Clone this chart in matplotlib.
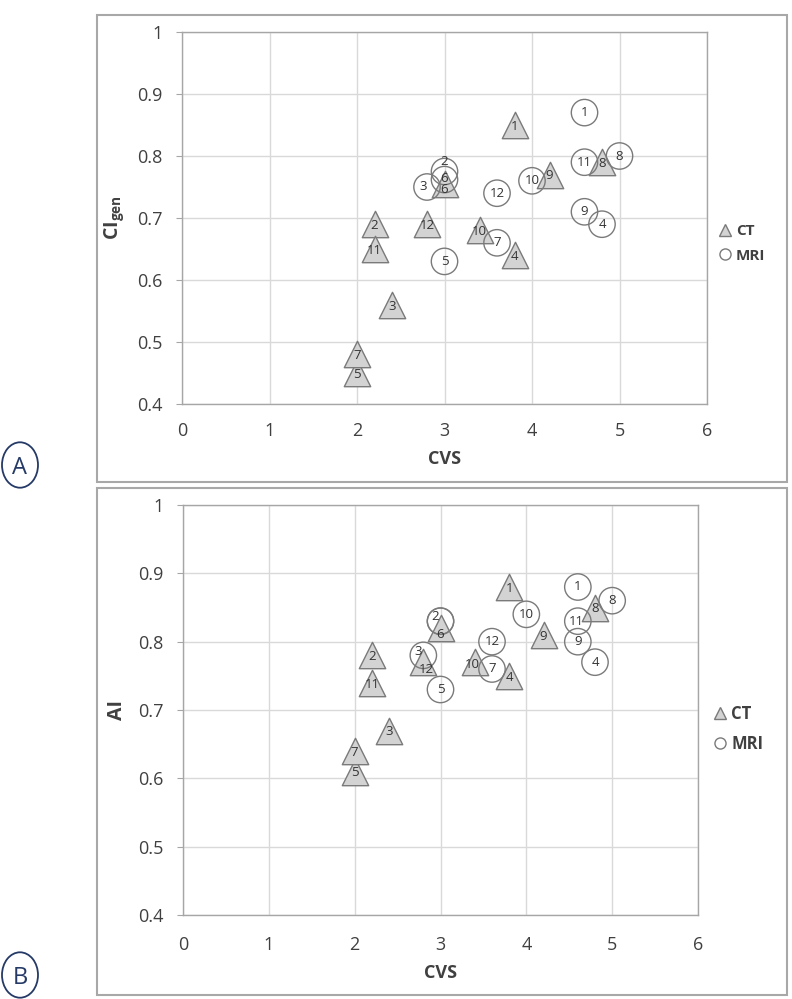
import matplotlib
matplotlib.use("Agg")
import matplotlib.pyplot as plt
from matplotlib.lines import Line2D
from matplotlib.patches import Rectangle, Circle

plt.rcParams['font.family'] = ['Open Sans', 'DejaVu Sans']
plt.rcParams['mathtext.fontset'] = 'custom'
plt.rcParams['mathtext.rm'] = 'Open Sans'
plt.rcParams['mathtext.bf'] = 'Open Sans:bold'

# ---- data ----
patients = ['1', '2', '3', '4', '5', '6', '7', '8', '9', '10', '11', '12']

# Panel A: CIgen vs CVS
ct_cvs_a = [3.8, 2.2, 2.4, 3.8, 2.0, 3.0, 2.0, 4.8, 4.2, 3.4, 2.2, 2.8]
ct_ci_a = [0.85, 0.69, 0.56, 0.64, 0.45, 0.755, 0.48, 0.79, 0.77, 0.68, 0.65, 0.69]
mri_cvs_a = [4.6, 3.0, 2.8, 4.8, 3.0, 3.0, 3.6, 5.0, 4.6, 4.0, 4.6, 3.6]
mri_ci_a = [0.87, 0.775, 0.75, 0.69, 0.63, 0.762, 0.66, 0.80, 0.71, 0.76, 0.79, 0.74]

# Panel B: AI vs CVS
ct_cvs_b = [3.8, 2.2, 2.4, 3.8, 2.0, 3.0, 2.0, 4.8, 4.2, 3.4, 2.2, 2.8]
ct_ai_b = [0.88, 0.78, 0.67, 0.75, 0.61, 0.82, 0.64, 0.85, 0.81, 0.77, 0.74, 0.77]
mri_cvs_b = [4.6, 3.0, 2.8, 4.8, 3.0, 3.0, 3.6, 5.0, 4.6, 4.0, 4.6, 3.6]
mri_ai_b = [0.88, 0.83, 0.78, 0.77, 0.73, 0.83, 0.76, 0.86, 0.80, 0.84, 0.83, 0.80]

x_ticks = [0, 1, 2, 3, 4, 5, 6]
y_ticks = [0.4, 0.5, 0.6, 0.7, 0.8, 0.9, 1.0]
y_tick_labels = ['0.4', '0.5', '0.6', '0.7', '0.8', '0.9', '1']

# data-label nudges in points (style only): (panel, series, patient) -> (dx, dy)
label_nudge = {
    ('A', 'mri', '2'): (0, 7),
    ('A', 'mri', '6'): (0, 1),
    ('A', 'ct', '6'): (0, -4),
    ('A', 'mri', '3'): (-3, 0),
    ('B', 'mri', '2'): (-4, 3),
    ('B', 'ct', '6'): (0, -5),
    ('B', 'mri', '3'): (-4, 3),
    ('B', 'ct', '12'): (2, -5),
    ('B', 'ct', '10'): (-2, -2),
    ('B', 'mri', '11'): (-1, 0),
}

W, H = 792, 999
fig = plt.figure(figsize=(W / 100, H / 100), dpi=100)

TRI_FACE = '#d3d3d3'
TRI_EDGE = '#7a7a7a'
CIR_EDGE = '#7a7a7a'
TXT = '#404040'
GRID = '#d9d9d9'
SPINE = '#a6a6a6'


def fx(px):
    return px / W


def fy(py):
    return 1 - py / H


# outer panel boxes
for (x0, y0, x1, y1) in [(97, 15, 787, 482), (97, 488, 787, 995)]:
    fig.patches.append(Rectangle((fx(x0), fy(y1)), fx(x1) - fx(x0), fy(y0) - fy(y1),
                                 transform=fig.transFigure, fill=False,
                                 edgecolor='#a8a8a8', linewidth=1.5))


def panel(name, rect, ct_x, ct_y, mri_x, mri_y, ylabel, leg_anchor, leg_fs, tpad):
    ax = fig.add_axes(rect)
    ax.set_xlim(0, 6)
    ax.set_ylim(0.4, 1.0)
    ax.set_xticks(x_ticks)
    ax.set_xticklabels([str(t) for t in x_ticks])
    ax.set_yticks(y_ticks)
    ax.set_yticklabels(y_tick_labels)
    ax.grid(True, color=GRID, linewidth=1)
    ax.set_axisbelow(True)
    for s in ax.spines.values():
        s.set_color(SPINE)
        s.set_linewidth(1)
    ax.tick_params(axis='y', length=4, color=SPINE, pad=10, labelsize=13, labelcolor=TXT)
    ax.tick_params(axis='x', length=0, pad=tpad, labelsize=13, labelcolor=TXT)

    ax.scatter(ct_x, ct_y, marker='^', s=19 ** 2, facecolor=TRI_FACE,
               edgecolor=TRI_EDGE, linewidth=1, zorder=3)
    ax.scatter(mri_x, mri_y, marker='o', s=19 ** 2, facecolor='none',
               edgecolor=CIR_EDGE, linewidth=1, zorder=4)

    seen = set()
    items = [('ct', p, x, y) for p, x, y in zip(patients, ct_x, ct_y)] + \
            [('mri', p, x, y) for p, x, y in zip(patients, mri_x, mri_y)]
    for series, lab, x, y in items:
        key = (round(x, 3), round(y, 3))
        if key in seen:
            continue
        seen.add(key)
        dx, dy = label_nudge.get((name, series, lab), (0, -1 if series == 'ct' else 0))
        ax.annotate(lab, (x, y), xytext=(dx, dy), textcoords='offset points',
                    ha='center', va='center', fontsize=9.5, color='#333333', zorder=5)

    ax.set_xlabel('CVS', fontsize=13, fontweight='bold', color=TXT, labelpad=7)
    ax.set_ylabel(ylabel, fontsize=14, fontweight='bold', color=TXT, labelpad=8)

    handles = [
        Line2D([], [], linestyle='none', marker='^', markersize=8,
               markerfacecolor=TRI_FACE, markeredgecolor=TRI_EDGE),
        Line2D([], [], linestyle='none', marker='o', markersize=8,
               markerfacecolor='white', markeredgecolor=CIR_EDGE),
    ]
    leg = fig.legend(handles, ['CT', 'MRI'], loc='upper left',
                     bbox_to_anchor=leg_anchor, frameon=False,
                     handlelength=0.8, handletextpad=0.3, labelspacing=0.7,
                     borderpad=0, borderaxespad=0,
                     prop={'weight': 'bold', 'size': leg_fs})
    for t in leg.get_texts():
        t.set_color(TXT)
    return ax


panel('A', [fx(182), fy(404), fx(707) - fx(182), fy(32) - fy(404)],
      ct_cvs_a, ct_ci_a, mri_cvs_a, mri_ci_a,
      r'$\mathbf{CI}_{\mathbf{gen}}$', (fx(719), fy(224)), 11, 13)

panel('B', [fx(183), fy(915), fx(698) - fx(183), fy(505) - fy(915)],
      ct_cvs_b, ct_ai_b, mri_cvs_b, mri_ai_b,
      'AI', (fx(713), fy(705)), 12, 15)

# circled panel letters
for letter, cy in [('A', 465), ('B', 975)]:
    fig.patches.append(Circle((fx(20), fy(cy)), radius=18 / W,
                              transform=fig.transFigure, fill=False,
                              edgecolor='#253a66', linewidth=1.3))
    fig.text(fx(20), fy(cy), letter, ha='center', va='center_baseline',
             fontsize=17, color='#253a66')

fig.savefig('out.png', dpi=100)
